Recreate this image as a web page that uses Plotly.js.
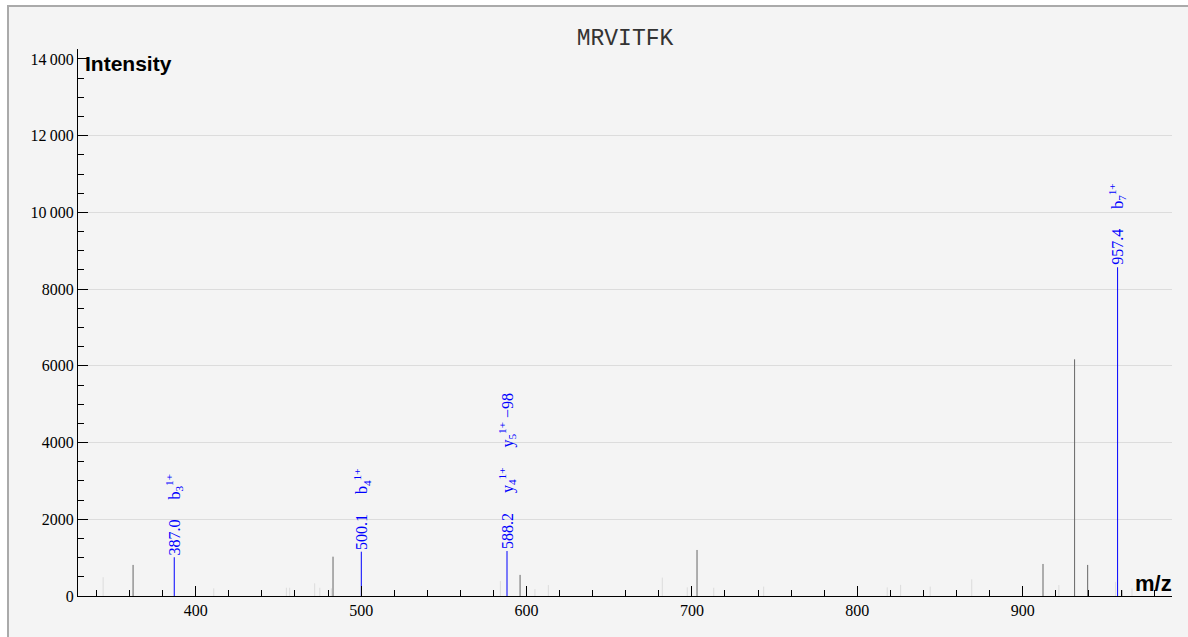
<!DOCTYPE html>
<html>
<head>
<meta charset="utf-8">
<script src="https://cdn.plot.ly/plotly-3.0.1.min.js"></script>
<style>
  html, body { margin: 0; padding: 0; background: #ffffff; overflow: hidden; }
  #frame { position: absolute; left: 7px; top: 5px; width: 1300px; height: 700px;
           border: 2px solid #aaaaaa; background: #f4f4f4; }
  #chart { position: absolute; left: 0; top: 0; width: 1188px; height: 637px; }
</style>
</head>
<body>
<div id="frame"></div>
<div id="chart"></div>
<script>
// ---- data ----
const peptide = "MRVITFK";

// unannotated, faint peaks
const mzLight  = [344.0, 410.9, 454.8, 456.8, 471.9, 475.0, 482.0, 584.2, 605.1, 613.2, 682.1, 697.2, 713.2, 743.4, 818.1, 826.2, 844.1, 869.2, 921.9, 956.2, 966.1];
const intLight = [490, 200, 215, 215, 330, 215, 200, 390, 180, 285, 480, 225, 215, 245, 225, 290, 245, 435, 285, 370, 200];

// unannotated, darker peaks
const mzDark  = [362.1, 483.0, 596.1, 703.1, 912.3, 931.4, 939.3, 960.0];
const intDark = [810, 1025, 550, 1200, 835, 6170, 810, 155];

// annotated (matched) fragment peaks
const mzIon    = [387.0, 500.1, 588.2, 957.4];
const intIon   = [1010, 1155, 1172, 8570];
const mzText   = ["387.0", "500.1", "588.2", "957.4"];
const ionLabels = [
  ["b<sub>3</sub><sup>1+</sup>"],
  ["b<sub>4</sub><sup>1+</sup>"],
  ["y<sub>4</sub><sup>1+</sup>", "y<sub>5</sub><sup>1+</sup> \u221298"],
  ["b<sub>7</sub><sup>1+</sup>"]
];

// axis ticks
const xTickVals = [400, 500, 600, 700, 800, 900];
const xTickText = ["400", "500", "600", "700", "800", "900"];
const yTickVals = [0, 2000, 4000, 6000, 8000, 10000, 12000, 14000];
const yTickText = ["0", "2000", "4000", "6000", "8000", "10\u2009000", "12\u2009000", "14\u2009000"];
const yGridVals = [2000, 4000, 6000, 8000, 10000, 12000];
const xRange = [328.8, 990.3];
const yRange = [0, 14260];

// ---- build stick traces ----
function sticks(mz, inten) {
  const x = [], y = [];
  for (let i = 0; i < mz.length; i++) {
    x.push(mz[i], mz[i], null);
    y.push(0, inten[i], null);
  }
  return { x, y };
}

const serif = "Liberation Serif, Times New Roman, serif";
const sans = "Liberation Sans, Arial, sans-serif";

const sL = sticks(mzLight, intLight);
const sD = sticks(mzDark, intDark);
const sI = sticks(mzIon, intIon);

const traces = [
  { x: [null], y: [null], xaxis: 'x', yaxis: 'y2', mode: 'lines', hoverinfo: 'skip', showlegend: false },
  { x: sL.x, y: sL.y, mode: 'lines', line: { color: '#dcdcdc', width: 1 }, hoverinfo: 'skip', showlegend: false },
  { x: sD.x, y: sD.y, mode: 'lines', line: { color: '#666666', width: 1 }, hoverinfo: 'skip', showlegend: false },
  { x: sI.x, y: sI.y, mode: 'lines', line: { color: '#0000ff', width: 1 }, hoverinfo: 'skip', showlegend: false }
];

const gap = "\u00a0\u00a0\u00a0\u00a0\u00a0";
const annotations = mzIon.map((m, i) => ({
  x: m, y: intIon[i], xref: 'x', yref: 'y',
  text: mzText[i] + gap + ionLabels[i].join(gap),
  showarrow: false, textangle: -90,
  xanchor: 'center', yanchor: 'bottom', yshift: 0,
  font: { family: serif, size: 16, color: '#0000ff' }
}));
annotations.push({
  x: 0, y: 1, xref: 'paper', yref: 'paper', xanchor: 'left', yanchor: 'top',
  xshift: 5, yshift: -1, showarrow: false,
  text: "<b>Intensity</b>", font: { family: sans, size: 21, color: '#000' }
});
annotations.push({
  x: 1, y: 0, xref: 'paper', yref: 'paper', xanchor: 'right', yanchor: 'bottom',
  xshift: 2, yshift: -2, showarrow: false,
  text: "<b>m/z</b>", font: { family: sans, size: 22, color: '#000' }
});

const layout = {
  width: 1188, height: 637,
  margin: { l: 78, r: 16, t: 49, b: 41, pad: 0 },
  paper_bgcolor: 'rgba(0,0,0,0)',
  plot_bgcolor: 'rgba(0,0,0,0)',
  showlegend: false,
  title: {
    text: peptide, x: 0.5, xref: 'paper', xanchor: 'center',
    y: 1 - 37 / 637, yref: 'container', yanchor: 'middle',
    font: { family: "Liberation Mono, Courier New, monospace", size: 23, color: '#333' }
  },
  xaxis: {
    range: xRange, showgrid: false, zeroline: false,
    showline: true, linecolor: '#000', linewidth: 1,
    tickmode: 'array', tickvals: xTickVals, ticktext: xTickText,
    ticks: 'inside', ticklen: 10, tickcolor: '#000', tickwidth: 1,
    minor: { dtick: 20, tick0: 0, ticks: 'inside', ticklen: 6, tickcolor: '#000', tickwidth: 1, showgrid: false },
    tickfont: { family: serif, size: 16, color: '#000' }
  },
  yaxis: {
    range: yRange, showgrid: false, zeroline: false,
    showline: true, linecolor: '#000', linewidth: 1,
    tickmode: 'array', tickvals: yTickVals, ticktext: yTickText,
    ticks: 'inside', ticklen: 10, tickcolor: '#000', tickwidth: 1,
    minor: { dtick: 500, tick0: 0, ticks: 'inside', ticklen: 6, tickcolor: '#000', tickwidth: 1, showgrid: false },
    tickfont: { family: serif, size: 16, color: '#000' }
  },
  yaxis2: {
    range: yRange, overlaying: 'y', side: 'left',
    tickmode: 'array', tickvals: yGridVals,
    showticklabels: false, ticks: '', showline: false, zeroline: false,
    showgrid: true, gridcolor: '#dcdcdc', gridwidth: 1
  },
  annotations: annotations
};

Plotly.newPlot('chart', traces, layout, { displayModeBar: false, staticPlot: true });
</script>
</body>
</html>
